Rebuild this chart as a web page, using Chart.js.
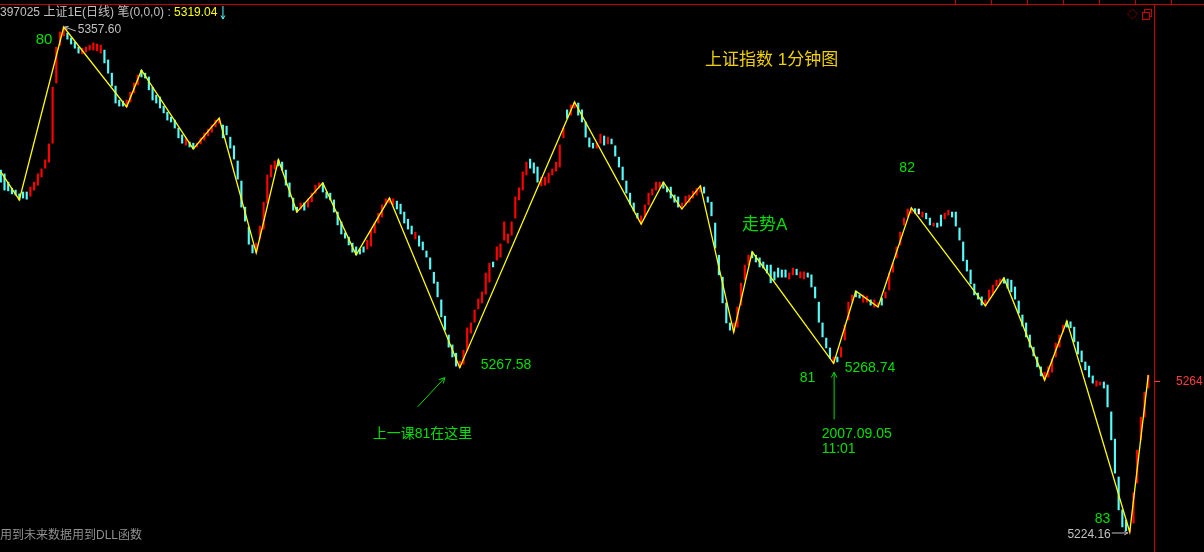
<!DOCTYPE html>
<html>
<head>
<meta charset="utf-8">
<script src="https://cdn.jsdelivr.net/npm/chart.js@4.4.1/dist/chart.umd.min.js"></script>
<style>
  html, body { margin: 0; padding: 0; background: #000; overflow: hidden; }
  #wrap { width: 1204px; height: 552px; position: relative; }
</style>
</head>
<body>
<div id="wrap"><canvas id="c" width="1204" height="552"></canvas></div>
<script>
// ---- Data (1-minute bars, price range per minute) ----
const barHigh = [
  5319.8,5318.8,5316.6,5315.0,5314.5,5313.5,5314.0,5314.0,5315.3,5316.6,
  5318.8,5320.1,5322.5,5326.7,5341.7,5352.3,5356.3,5357.6,5356.0,5354.7,
  5353.6,5352.3,5352.0,5352.3,5352.8,5353.4,5353.1,5352.8,5351.5,5348.9,
  5345.4,5342.0,5338.3,5338.0,5338.3,5340.4,5342.8,5344.9,5346.2,5345.4,
  5344.4,5341.7,5339.6,5339.1,5336.7,5335.1,5333.8,5333.0,5330.9,5329.1,
  5328.3,5327.2,5326.9,5326.9,5328.3,5329.6,5330.6,5331.7,5333.0,5333.5,
  5331.7,5331.4,5328.5,5326.2,5322.2,5316.9,5310.0,5304.7,5300.0,5300.5,
  5305.0,5311.3,5318.5,5321.1,5322.2,5322.5,5321.9,5319.8,5316.4,5312.4,
  5310.0,5311.1,5311.1,5312.2,5313.7,5315.8,5316.4,5316.4,5314.0,5313.7,
  5311.9,5308.7,5306.1,5303.2,5302.1,5300.5,5299.5,5298.9,5299.5,5301.3,
  5304.0,5305.8,5308.4,5310.6,5312.2,5312.4,5312.2,5311.6,5310.8,5308.7,
  5306.8,5305.0,5303.4,5302.4,5300.8,5298.4,5296.6,5292.8,5290.2,5285.5,
  5281.2,5276.2,5273.6,5271.4,5269.3,5272.2,5278.1,5279.4,5282.8,5285.7,
  5287.6,5292.6,5295.2,5295.5,5299.5,5300.3,5306.1,5302.9,5306.1,5312.7,
  5315.1,5319.3,5321.9,5322.7,5321.7,5320.6,5317.9,5317.9,5319.0,5320.1,
  5321.9,5326.4,5330.9,5335.7,5337.0,5337.8,5337.5,5335.7,5332.5,5328.3,
  5326.9,5326.9,5329.3,5328.8,5328.5,5328.0,5326.2,5323.2,5320.6,5316.9,
  5313.7,5311.1,5308.4,5307.7,5310.6,5313.7,5314.8,5316.6,5316.6,5316.6,
  5315.3,5315.3,5313.2,5312.7,5311.1,5312.9,5313.2,5314.2,5315.0,5315.6,
  5315.3,5312.7,5311.3,5305.8,5297.3,5291.5,5284.7,5279.4,5279.4,5283.6,
  5289.9,5294.7,5297.3,5298.2,5297.3,5296.6,5295.5,5294.7,5294.7,5292.9,
  5293.9,5293.4,5293.4,5292.6,5293.9,5293.6,5292.9,5292.9,5292.6,5292.1,
  5288.9,5284.9,5279.4,5275.4,5272.8,5270.4,5270.4,5273.0,5278.9,5284.9,
  5286.8,5287.8,5286.8,5286.8,5286.5,5285.5,5285.5,5284.7,5286.0,5287.6,
  5292.6,5295.2,5299.5,5303.4,5307.1,5309.5,5309.8,5309.6,5309.5,5308.7,
  5308.4,5307.1,5305.8,5305.8,5307.9,5308.4,5309.2,5308.7,5308.7,5304.5,
  5300.8,5296.0,5293.4,5289.7,5287.3,5286.3,5285.5,5288.1,5289.4,5290.7,
  5291.0,5291.3,5291.0,5290.7,5288.9,5285.2,5281.5,5279.4,5276.2,5273.0,
  5270.4,5267.8,5266.4,5267.8,5269.9,5274.1,5276.2,5278.8,5279.9,5279.7,
  5278.3,5274.4,5272.0,5269.1,5268.0,5265.4,5264.1,5263.8,5263.8,5263.0,
  5255.9,5248.7,5238.7,5230.0,5227.3,5225.2,5234.5,5245.8,5254.5,5261.1,5265.6
];
const barLow = [
  5316.6,5314.5,5314.3,5313.5,5313.2,5311.9,5312.4,5312.1,5312.9,5314.5,
  5315.8,5318.0,5320.3,5321.9,5326.9,5342.8,5352.8,5355.2,5354.4,5353.1,
  5352.0,5350.7,5350.5,5351.0,5351.5,5351.5,5351.3,5350.7,5348.1,5345.4,
  5342.0,5337.5,5336.7,5336.7,5336.5,5337.8,5340.2,5342.3,5344.4,5344.1,
  5341.0,5338.3,5337.5,5336.2,5334.9,5333.0,5332.5,5330.9,5328.3,5326.9,
  5326.4,5325.9,5325.4,5325.9,5326.7,5327.7,5328.8,5329.8,5331.2,5332.2,
  5328.3,5329.1,5325.6,5322.7,5317.4,5310.0,5306.3,5300.2,5297.9,5297.9,
  5301.6,5304.2,5311.1,5318.0,5320.1,5320.9,5319.8,5315.8,5312.7,5309.2,
  5308.7,5309.5,5309.2,5310.0,5311.4,5313.7,5315.0,5314.0,5312.4,5311.9,
  5308.7,5305.3,5302.9,5301.8,5300.0,5298.1,5297.4,5297.6,5298.1,5298.9,
  5299.7,5303.2,5305.8,5307.4,5310.6,5311.1,5310.6,5309.5,5308.2,5305.8,
  5304.2,5302.9,5301.6,5299.7,5298.7,5296.8,5293.6,5289.9,5286.3,5281.0,
  5277.5,5273.0,5270.4,5268.0,5267.58,5268.5,5272.0,5276.7,5279.6,5283.1,
  5284.7,5287.0,5290.2,5294.2,5296.0,5296.8,5301.3,5300.5,5302.6,5307.1,
  5311.9,5314.5,5318.5,5320.3,5319.0,5316.6,5315.6,5315.8,5316.4,5318.5,
  5319.5,5320.6,5328.3,5333.5,5334.3,5336.2,5334.3,5332.5,5328.5,5325.9,
  5325.6,5325.6,5326.9,5326.4,5326.7,5326.7,5323.5,5320.6,5317.2,5313.7,
  5310.8,5309.0,5307.1,5305.5,5307.4,5310.6,5313.2,5314.5,5315.0,5315.0,
  5314.0,5312.4,5311.3,5310.0,5309.5,5310.6,5311.3,5312.4,5313.2,5314.0,
  5313.7,5311.3,5307.7,5299.2,5292.1,5284.7,5279.4,5277.5,5277.0,5278.3,
  5284.1,5290.7,5294.7,5296.6,5295.5,5294.2,5293.9,5292.6,5290.0,5290.7,
  5291.5,5291.5,5291.5,5291.0,5292.1,5292.1,5291.3,5291.0,5291.5,5288.9,
  5286.0,5279.6,5275.7,5272.8,5270.1,5268.74,5269.1,5270.4,5274.9,5280.2,
  5284.9,5286.3,5286.0,5284.9,5284.9,5284.1,5283.6,5283.6,5284.1,5286.0,
  5288.1,5292.8,5296.6,5300.0,5305.3,5307.4,5308.4,5308.4,5308.2,5307.4,
  5306.9,5305.3,5305.0,5304.7,5305.0,5306.9,5307.9,5307.4,5305.0,5301.3,
  5295.8,5293.1,5289.7,5286.8,5285.7,5284.1,5283.9,5285.5,5286.8,5289.2,
  5289.7,5289.9,5288.6,5287.6,5285.7,5282.0,5278.6,5275.7,5273.0,5270.7,
  5267.8,5265.4,5264.3,5265.1,5266.4,5270.4,5273.0,5277.0,5278.3,5278.1,
  5274.4,5271.2,5269.1,5267.0,5265.1,5263.5,5262.7,5263.0,5262.2,5257.2,
  5248.5,5239.7,5230.0,5225.5,5224.5,5224.16,5226.5,5237.1,5248.5,5254.5,5262.2
];
// 1 = up (red), -1 = down (cyan), 0 = flat (white)
const barDir = [
  -1,-1,-1,-1,-1,-1,-1,-1,1,1,
  1,1,1,1,1,1,1,1,-1,-1,
  -1,-1,1,1,1,1,1,1,-1,-1,
  -1,-1,-1,-1,1,1,1,1,-1,-1,
  -1,-1,-1,-1,-1,-1,-1,-1,-1,-1,
  1,-1,-1,1,1,1,1,1,1,1,
  -1,-1,-1,-1,-1,-1,-1,-1,-1,1,
  1,1,1,1,1,-1,-1,-1,-1,-1,
  -1,1,-1,1,1,1,1,-1,-1,-1,
  -1,-1,-1,-1,-1,-1,-1,-1,-1,1,
  1,1,1,1,1,1,1,-1,-1,-1,
  -1,-1,1,-1,-1,-1,-1,-1,-1,-1,
  -1,-1,-1,-1,1,1,1,1,1,1,
  1,1,1,-1,1,1,1,1,1,1,
  1,1,1,-1,-1,-1,1,1,1,1,
  1,1,1,-1,1,1,-1,-1,-1,-1,
  -1,1,1,-1,1,-1,-1,-1,-1,-1,
  -1,-1,-1,1,1,1,1,1,1,-1,
  -1,-1,-1,-1,1,1,1,1,1,1,
  -1,-1,-1,-1,-1,-1,-1,-1,1,1,
  1,1,1,-1,-1,-1,-1,-1,-1,-1,
  -1,-1,-1,1,1,-1,1,1,-1,-1,
  -1,-1,-1,-1,-1,1,-1,1,1,1,
  1,-1,-1,1,1,-1,1,1,-1,1,
  1,1,1,1,1,1,1,-1,0,1,
  -1,-1,1,-1,-1,1,1,-1,-1,-1,
  -1,-1,-1,-1,-1,-1,1,1,1,1,
  1,-1,-1,-1,-1,-1,-1,-1,-1,-1,
  -1,-1,1,1,1,1,1,1,-1,-1,
  -1,-1,-1,-1,-1,-1,1,1,-1,-1,
  -1,-1,-1,-1,-1,1,1,1,1,1,1
];
// zigzag ("笔") turning points
const pivotIndex = [0,5,17,34,38,52,59,69,75,80,87,96,105,124,155,173,179,184,189,198,203,225,231,237,246,266,271,282,288,305,310];
const pivotPrice = [5319.3,5311.9,5357.6,5336.5,5346.2,5325.4,5333.5,5297.9,5322.5,5308.7,5316.4,5297.4,5312.4,5267.58,5337.8,5305.5,5316.6,5309.5,5315.6,5277.0,5298.2,5268.74,5287.8,5283.6,5309.8,5283.9,5291.3,5264.3,5279.9,5224.16,5265.6];
const waveLabels = ['80','81','82','83'];
const titleMain = '397025 上证1E(日线) 笔(0,0,0)';
const titleValue = '5319.04';
const lastPrice = 5264;
const chartTitle = '上证指数 1分钟图';
const noteText = '上一课81在这里';
const trendText = '走势A';
const dateText = ['2007.09.05', '11:01'];
const footerText = '用到未来数据用到DLL函数';

// ---- Colors ----
const RED = '#ff0000', CYAN = '#54fcfc', WHITE = '#ffffff', YELLOW = '#ffff00';
const GREEN = '#00e000', GREY = '#c0c0c0', FRAME = '#c80000';
const FONT = '"Liberation Sans", Arial, "Noto Sans CJK SC", sans-serif';

const barData = barHigh.map((h, i) => ({ x: i, y: [barLow[i], h] }));
const barColors = barDir.map(d => d > 0 ? RED : (d < 0 ? CYAN : WHITE));
const zigData = pivotIndex.map((i, k) => ({ x: i, y: pivotPrice[k] }));

function txt(ctx, s, x, y, color, size, align) {
  ctx.font = size + 'px ' + FONT;
  ctx.fillStyle = color;
  ctx.textAlign = align || 'left';
  ctx.textBaseline = 'middle';
  ctx.fillText(s, x, y);
  return ctx.measureText(s).width;
}
function arrow(ctx, x1, y1, x2, y2, color, head) {
  const a = Math.atan2(y2 - y1, x2 - x1), h = head || 6;
  ctx.strokeStyle = color; ctx.lineWidth = 1;
  ctx.beginPath(); ctx.moveTo(x1, y1); ctx.lineTo(x2, y2);
  ctx.moveTo(x2, y2); ctx.lineTo(x2 - h * Math.cos(a - 0.5), y2 - h * Math.sin(a - 0.5));
  ctx.moveTo(x2, y2); ctx.lineTo(x2 - h * Math.cos(a + 0.5), y2 - h * Math.sin(a + 0.5));
  ctx.stroke();
}

const deco = {
  id: 'deco',
  beforeDraw(chart) {
    const ctx = chart.ctx;
    ctx.save(); ctx.fillStyle = '#000'; ctx.fillRect(0, 0, chart.width, chart.height); ctx.restore();
  },
  afterDraw(chart) {
    const ctx = chart.ctx, xs = chart.scales.x, ys = chart.scales.y, ca = chart.chartArea;
    const X = v => xs.getPixelForValue(v), Y = v => ys.getPixelForValue(v);
    ctx.save();
    // frame
    ctx.strokeStyle = FRAME; ctx.lineWidth = 1;
    ctx.beginPath(); ctx.moveTo(0, 4.5); ctx.lineTo(chart.width, 4.5); ctx.stroke();
    ctx.beginPath(); ctx.moveTo(Math.round(ca.right) + 0.5, 4); ctx.lineTo(Math.round(ca.right) + 0.5, chart.height); ctx.stroke();
    for (let tx = 955; tx < chart.width; tx += 36) {
      ctx.beginPath(); ctx.moveTo(tx + 0.5, 0); ctx.lineTo(tx + 0.5, 4); ctx.stroke();
    }
    // window icons
    ctx.beginPath(); ctx.moveTo(1132.5, 9); ctx.lineTo(1137.5, 14); ctx.lineTo(1132.5, 19); ctx.lineTo(1127.5, 14); ctx.closePath();
    ctx.setLineDash([1, 1]); ctx.stroke(); ctx.setLineDash([]);
    ctx.strokeRect(1144.5, 9.5, 7, 7);
    ctx.fillStyle = '#000'; ctx.fillRect(1142, 12, 8, 8);
    ctx.strokeRect(1142.5, 12.5, 7, 7);
    // title
    let x = 0;
    x += txt(ctx, titleMain, x, 13, GREY, 12);
    x += txt(ctx, ' : ', x, 13, GREY, 12);
    x += txt(ctx, titleValue, x, 13, YELLOW, 12);
    arrow(ctx, x + 5.5, 6, x + 5.5, 19, CYAN, 4);
    // chart title
    txt(ctx, chartTitle, 705, 60, '#f0d000', 17);
    // pivot annotations
    const p80 = { x: X(pivotIndex[2]), y: Y(pivotPrice[2]) };
    txt(ctx, waveLabels[0], p80.x - 28, p80.y + 13, GREEN, 15);
    arrow(ctx, p80.x + 12, p80.y + 4, p80.x + 1, p80.y, GREY, 4);
    txt(ctx, pivotPrice[2].toFixed(2), p80.x + 14, p80.y + 3, GREY, 12);

    const pA = { x: X(pivotIndex[13]), y: Y(pivotPrice[13]) };
    txt(ctx, pivotPrice[13].toFixed(2), pA.x + 21, pA.y - 3, GREEN, 14);
    arrow(ctx, pA.x - 42, pA.y + 39, pA.x - 15, pA.y + 10, GREEN, 6);
    txt(ctx, noteText, pA.x - 87, pA.y + 66, GREEN, 14);

    txt(ctx, trendText, 742, 225, GREEN, 17);

    const p82 = { x: X(pivotIndex[24]), y: Y(pivotPrice[24]) };
    txt(ctx, waveLabels[2], p82.x - 12, p82.y - 40, GREEN, 14);

    const p81 = { x: X(pivotIndex[21]), y: Y(pivotPrice[21]) };
    txt(ctx, waveLabels[1], p81.x - 34, p81.y + 15, GREEN, 14);
    txt(ctx, pivotPrice[21].toFixed(2), p81.x + 11, p81.y + 5, GREEN, 14);
    arrow(ctx, p81.x + 0.5, p81.y + 56, p81.x + 0.5, p81.y + 9, GREEN, 6);
    txt(ctx, dateText[0], p81.x - 12, p81.y + 71, GREEN, 14);
    txt(ctx, dateText[1], p81.x - 12, p81.y + 86, GREEN, 14);

    const p83 = { x: X(pivotIndex[29]), y: Y(pivotPrice[29]) };
    txt(ctx, waveLabels[3], p83.x - 35, p83.y - 13, GREEN, 14);
    txt(ctx, pivotPrice[29].toFixed(2), p83.x - 19, p83.y + 3, GREY, 12, 'right');
    arrow(ctx, p83.x - 18, p83.y + 1, p83.x - 2, p83.y + 1, GREY, 4);

    // right axis last price
    const yl = Math.round(Y(lastPrice)) + 0.5;
    ctx.strokeStyle = '#ff3c3c'; ctx.beginPath(); ctx.moveTo(ca.right, yl); ctx.lineTo(ca.right + 6, yl); ctx.stroke();
    txt(ctx, String(lastPrice), 1176, yl, '#ff3c3c', 12);

    // footer
    txt(ctx, footerText, 0, 536, '#909090', 12);
    ctx.restore();
  }
};

new Chart(document.getElementById('c'), {
  data: {
    datasets: [
      { type: 'bar', data: barData, backgroundColor: barColors, borderWidth: 0, barThickness: 1.5, order: 2 },
      { type: 'line', data: zigData, borderColor: YELLOW, borderWidth: 1.3, pointRadius: 0, tension: 0, fill: false, order: 1 }
    ]
  },
  options: {
    responsive: false,
    animation: false,
    devicePixelRatio: 1,
    layout: { padding: { left: 0, right: 50, top: 14, bottom: 0 } },
    plugins: { legend: { display: false }, tooltip: { enabled: false } },
    scales: {
      x: { type: 'linear', min: -0.216, max: 311.55, display: false, offset: false },
      y: { type: 'linear', min: 5218.875, max: 5361.035, display: false }
    }
  },
  plugins: [deco]
});
</script>
</body>
</html>
